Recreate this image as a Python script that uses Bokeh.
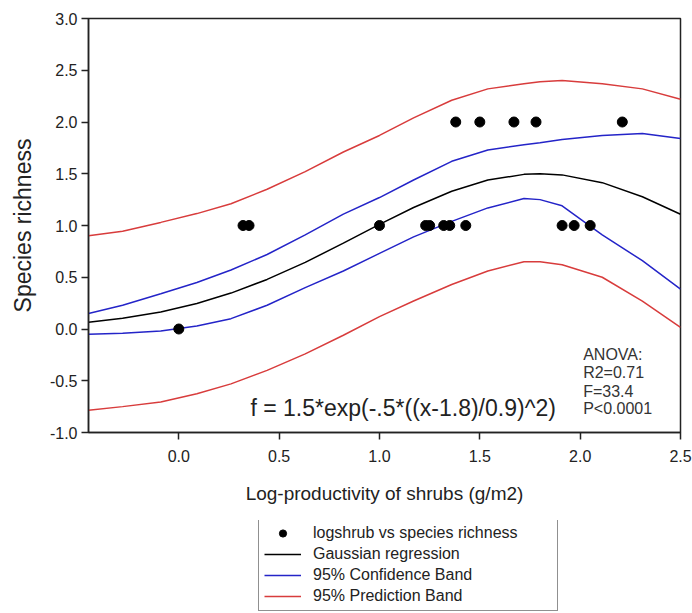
from bokeh.plotting import figure
from bokeh.models import Range1d, Legend, LegendItem, Label, FixedTicker
from bokeh.layouts import column
from bokeh.embed import file_html
from bokeh.resources import INLINE

# ---- data ----
pts_x = [0.0, 0.32, 0.35, 1.0, 1.23, 1.25, 1.32, 1.35, 1.43, 1.91, 1.97, 2.05,
         1.38, 1.50, 1.67, 1.78, 2.21]
pts_y = [0.0, 1.0, 1.0, 1.0, 1.0, 1.0, 1.0, 1.0, 1.0, 1.0, 1.0, 1.0,
         2.0, 2.0, 2.0, 2.0, 2.0]

curve_x = [-0.45, -0.28, -0.09, 0.09, 0.26, 0.44, 0.63, 0.82, 1.00, 1.17,
           1.36, 1.54, 1.72, 1.80, 1.91, 2.11, 2.31, 2.50]
fit_y = [0.066, 0.104, 0.165, 0.247, 0.347, 0.479, 0.644, 0.829, 1.011, 1.174,
         1.331, 1.439, 1.494, 1.500, 1.489, 1.414, 1.278, 1.109]
conf_upper = [0.15, 0.23, 0.34, 0.45, 0.57, 0.72, 0.91, 1.11, 1.27, 1.44,
              1.62, 1.73, 1.78, 1.80, 1.83, 1.87, 1.89, 1.84]
conf_lower = [-0.05, -0.04, -0.02, 0.03, 0.10, 0.23, 0.40, 0.56, 0.73, 0.89,
              1.04, 1.17, 1.26, 1.25, 1.19, 0.91, 0.66, 0.385]
pred_upper = [0.90, 0.945, 1.03, 1.115, 1.21, 1.35, 1.52, 1.71, 1.87, 2.04,
              2.21, 2.32, 2.37, 2.39, 2.40, 2.37, 2.32, 2.22]
pred_lower = [-0.785, -0.75, -0.705, -0.625, -0.53, -0.40, -0.24, -0.06, 0.12, 0.27,
              0.43, 0.56, 0.65, 0.65, 0.62, 0.50, 0.27, 0.016]

x_ticks = [0.0, 0.5, 1.0, 1.5, 2.0, 2.5]
x_tick_labels = ["0.0", "0.5", "1.0", "1.5", "2.0", "2.5"]
y_ticks = [-1.0, -0.5, 0.0, 0.5, 1.0, 1.5, 2.0, 2.5, 3.0]
y_tick_labels = ["-1.0", "-0.5", "0.0", "0.5", "1.0", "1.5", "2.0", "2.5", "3.0"]

series_labels = ["logshrub vs species richness", "Gaussian regression",
                 "95% Confidence Band", "95% Prediction Band"]

formula_text = "f = 1.5*exp(-.5*((x-1.8)/0.9)^2)"
anova_lines = ["ANOVA:", "R2=0.71", "F=33.4", "P<0.0001"]
anova_y = [-0.25, -0.42, -0.60, -0.77]

FONT = "Liberation Sans"
RED = "#d83c3c"
BLUE = "#2424c8"
INK = "#222222"

# ---------------- main plot ----------------
p = figure(width=692, height=520, x_range=Range1d(-0.45, 2.5), y_range=Range1d(-1.0, 3.0),
           output_backend="svg", toolbar_location=None,
           min_border_left=88, min_border_right=12, min_border_top=18, min_border_bottom=88)

p.xgrid.visible = False
p.ygrid.visible = False
p.outline_line_color = INK
p.outline_line_width = 1.5
p.background_fill_color = "white"
p.border_fill_color = "white"

for ax, ticks, labels in ((p.xaxis[0], x_ticks, x_tick_labels), (p.yaxis[0], y_ticks, y_tick_labels)):
    ax.ticker = FixedTicker(ticks=ticks)
    ax.major_label_overrides = {t: l for t, l in zip(ticks, labels)}
    ax.minor_tick_line_color = None
    ax.major_tick_out = 7
    ax.major_tick_in = 0
    ax.axis_line_color = INK
    ax.axis_line_width = 1.5
    ax.major_tick_line_color = INK
    ax.major_tick_line_width = 1.5
    ax.major_label_text_font = FONT
    ax.major_label_text_font_size = "16px"
    ax.major_label_text_color = INK
    ax.axis_label_text_font = FONT
    ax.axis_label_text_font_style = "normal"
    ax.axis_label_text_color = INK

p.xaxis.axis_label = "Log-productivity of shrubs (g/m2)"
p.xaxis.axis_label_text_font_size = "19px"
p.xaxis.major_label_standoff = 10
p.xaxis.axis_label_standoff = 18
p.yaxis.axis_label = "Species richness"
p.yaxis.axis_label_text_font_size = "23px"
p.yaxis.major_label_standoff = 4
p.yaxis.axis_label_standoff = 11

p.line(curve_x, pred_upper, line_color=RED, line_width=1.5)
p.line(curve_x, pred_lower, line_color=RED, line_width=1.5)
p.line(curve_x, conf_upper, line_color=BLUE, line_width=1.5)
p.line(curve_x, conf_lower, line_color=BLUE, line_width=1.5)
p.line(curve_x, fit_y, line_color="black", line_width=1.5)
p.scatter(pts_x, pts_y, size=10, color="black")

p.add_layout(Label(x=0.357, y=-0.76, text=formula_text, text_font=FONT, text_font_size="23px",
                   text_baseline="middle", text_align="left", text_color=INK))
for t, yy in zip(anova_lines, anova_y):
    p.add_layout(Label(x=2.015, y=yy, text=t, text_font=FONT, text_font_size="16px",
                       text_baseline="middle", text_align="left", text_color="#333333"))

# ---------------- legend strip below ----------------
lg = figure(width=692, height=93, x_range=Range1d(0, 1), y_range=Range1d(0, 1),
            output_backend="svg", toolbar_location=None,
            x_axis_location=None, y_axis_location=None,
            min_border_left=0, min_border_right=0, min_border_top=0, min_border_bottom=0)
lg.xgrid.visible = False
lg.ygrid.visible = False
lg.outline_line_color = None
lg.background_fill_color = "white"
lg.border_fill_color = "white"

# key renderers: a single point placed outside the strip's visible range
key_x = [-5.0]
key_y = [-5.0]
k_pts = lg.scatter(key_x, key_y, size=10, color="black")
k_fit = lg.line(key_x, key_y, line_color="black", line_width=1.5)
k_conf = lg.line(key_x, key_y, line_color=BLUE, line_width=1.5)
k_pred = lg.line(key_x, key_y, line_color=RED, line_width=1.5)

legend = Legend(items=[LegendItem(label=s, renderers=[r]) for s, r in
                       zip(series_labels, [k_pts, k_fit, k_conf, k_pred])],
                location=(170, 2))
legend.border_line_color = INK
legend.border_line_width = 1.5
legend.background_fill_alpha = 1.0
legend.label_text_font = FONT
legend.label_text_font_size = "16px"
legend.label_text_color = INK
legend.glyph_width = 37
legend.glyph_height = 18
legend.label_height = 18
legend.label_width = 239
legend.label_standoff = 12
legend.spacing = 3
legend.padding = 5
legend.margin = 0
lg.add_layout(legend)

layout = column(p, lg, spacing=0)
open("out.html", "w").write(file_html(layout, INLINE))
